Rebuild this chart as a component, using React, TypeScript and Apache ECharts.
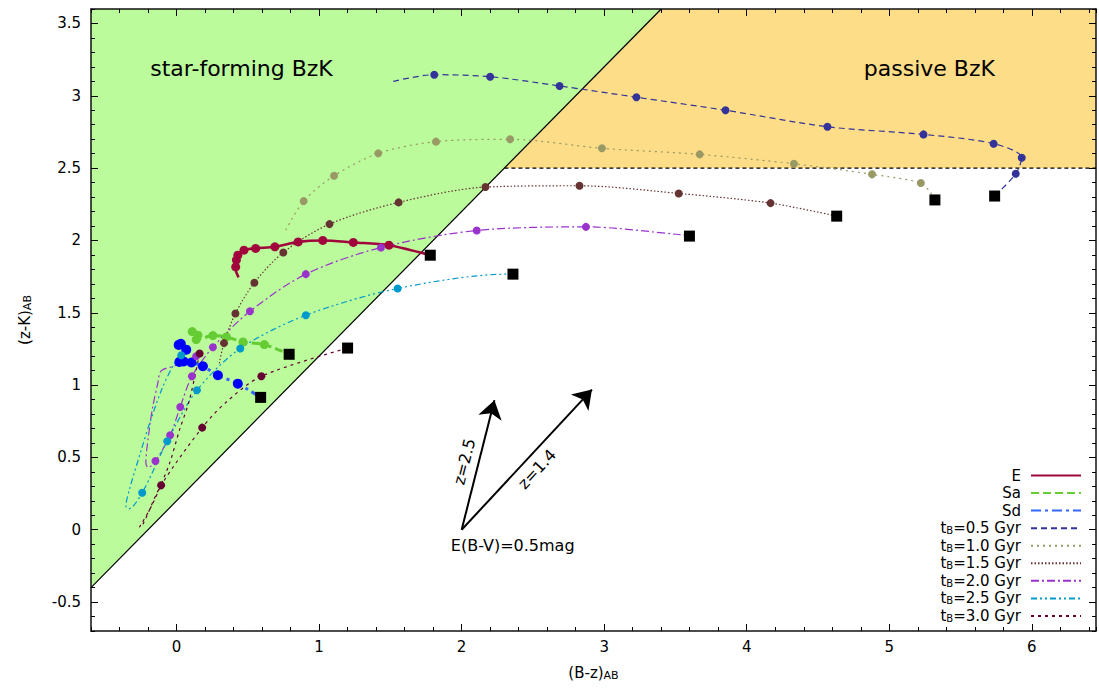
import React, { useEffect, useRef } from 'react';
import * as echarts from 'echarts';

const FONT = 'DejaVu Sans';

// Axis ranges
const xRange = [-0.6, 6.45];
const yRange = [-0.7, 3.6];
const xMajor = [0, 6];
const yMajor = [-0.5, 3.5];

// BzK selection regions
const sfRegion = [[-0.6, -0.4], [3.4, 3.6], [-0.6, 3.6]];
const passiveRegion = [[2.3, 2.5], [3.4, 3.6], [6.45, 3.6], [6.45, 2.5]];
const sfBoundary = [[-0.6, -0.4], [3.4, 3.6]];
const passiveBoundary = [[2.3, 2.5], [6.45, 2.5]];

// Model tracks (lines) and their marked points
const eTrack = [[0.435, 1.745], [0.415, 1.8], [0.415, 1.83], [0.42, 1.864], [0.43, 1.898], [0.473, 1.933], [0.555, 1.945], [0.69, 1.956], [0.853, 1.99], [1.026, 2.0], [1.24, 1.986], [1.49, 1.967], [1.78, 1.898]];
const eDots = [[0.415, 1.817], [0.42, 1.864], [0.43, 1.898], [0.473, 1.933], [0.555, 1.945], [0.69, 1.956], [0.853, 1.99], [1.026, 2.0], [1.24, 1.986], [1.49, 1.967]];

const saTrack = [[0.1, 1.38], [0.13, 1.36], [0.16, 1.345], [0.14, 1.315], [0.2, 1.33], [0.255, 1.342], [0.35, 1.333], [0.466, 1.298], [0.616, 1.28], [0.79, 1.213]];
const saDots = [[0.11, 1.37], [0.15, 1.345], [0.138, 1.315], [0.255, 1.342], [0.35, 1.333], [0.466, 1.298], [0.616, 1.28]];

const sdTrack = [[0.01, 1.285], [0.03, 1.29], [0.068, 1.245], [0.04, 1.2], [0.02, 1.16], [0.05, 1.163], [0.105, 1.156], [0.185, 1.13], [0.29, 1.068], [0.43, 1.01], [0.59, 0.915]];
const sdDots = [[0.015, 1.278], [0.03, 1.285], [0.068, 1.245], [0.02, 1.16], [0.05, 1.163], [0.105, 1.156], [0.185, 1.13], [0.29, 1.068], [0.43, 1.01]];

const t05Track = [[1.52, 3.1], [1.808, 3.146], [2.2, 3.132], [2.687, 3.068], [3.226, 2.99], [3.851, 2.9], [4.566, 2.786], [5.24, 2.733], [5.732, 2.669], [5.929, 2.572], [5.887, 2.461], [5.739, 2.307]];
const t05Dots = [[1.808, 3.146], [2.2, 3.132], [2.687, 3.068], [3.226, 2.99], [3.851, 2.9], [4.566, 2.786], [5.24, 2.733], [5.732, 2.669], [5.929, 2.572], [5.887, 2.461]];

const t10Track = [[0.766, 2.071], [0.892, 2.272], [1.105, 2.447], [1.415, 2.602], [1.82, 2.683], [2.34, 2.699], [2.984, 2.637], [3.67, 2.595], [4.331, 2.53], [4.879, 2.457], [5.221, 2.397], [5.29, 2.33], [5.32, 2.28]];
const t10Dots = [[0.892, 2.272], [1.105, 2.447], [1.415, 2.602], [1.82, 2.683], [2.34, 2.699], [2.984, 2.637], [3.67, 2.595], [4.331, 2.53], [4.879, 2.457], [5.221, 2.397]];

const t15Track = [[0.3, 1.15], [0.333, 1.29], [0.413, 1.495], [0.546, 1.708], [0.749, 1.917], [1.073, 2.113], [1.558, 2.263], [2.167, 2.369], [2.827, 2.378], [3.523, 2.325], [4.167, 2.258], [4.631, 2.168]];
const t15Dots = [[0.333, 1.29], [0.413, 1.495], [0.546, 1.708], [0.749, 1.917], [1.073, 2.113], [1.558, 2.263], [2.167, 2.369], [2.827, 2.378], [3.523, 2.325], [4.167, 2.258]];

const t20Track = [[0.138, 1.199], [0.0, 1.137], [-0.108, 1.098], [-0.132, 1.01], [-0.167, 0.849], [-0.19, 0.7], [-0.215, 0.46], [-0.2, 0.43], [-0.148, 0.475], [-0.045, 0.653], [0.026, 0.849], [0.108, 1.061], [0.255, 1.262], [0.515, 1.51], [0.907, 1.767], [1.434, 1.951], [2.106, 2.069], [2.872, 2.094], [3.523, 2.041], [3.598, 2.03]];
const t20Dots = [[0.138, 1.199], [-0.148, 0.475], [-0.045, 0.653], [0.026, 0.849], [0.108, 1.061], [0.255, 1.262], [0.515, 1.51], [0.907, 1.767], [1.434, 1.951], [2.106, 2.069], [2.872, 2.094]];

const t25Track = [[0.033, 1.206], [-0.02, 1.14], [-0.1, 0.98], [-0.19, 0.733], [-0.248, 0.549], [-0.33, 0.28], [-0.355, 0.16], [-0.335, 0.145], [-0.241, 0.256], [-0.065, 0.612], [0.143, 0.964], [0.447, 1.253], [0.907, 1.483], [1.551, 1.668], [2.324, 1.767], [2.36, 1.767]];
const t25Dots = [[0.033, 1.206], [-0.241, 0.256], [-0.065, 0.612], [0.143, 0.964], [0.447, 1.253], [0.907, 1.483], [1.551, 1.668]];

const t30Track = [[0.162, 1.218], [0.09, 0.895], [0.02, 0.687], [-0.05, 0.457], [-0.167, 0.18], [-0.26, 0.018], [-0.235, 0.04], [-0.108, 0.307], [0.18, 0.706], [0.349, 0.883], [0.595, 1.061], [1.2, 1.256]];
const t30Dots = [[0.162, 1.218], [-0.108, 0.307], [0.18, 0.706], [0.595, 1.061]];

const modelNames = ['E', 'Sa', 'Sd', 'tB=0.5 Gyr', 'tB=1.0 Gyr', 'tB=1.5 Gyr', 'tB=2.0 Gyr', 'tB=2.5 Gyr', 'tB=3.0 Gyr'];

// Reddening vectors
const reddeningFrom = [2.0, 0.0];
const reddeningTo = [[2.914, 0.969], [2.23, 0.895]];
const reddeningNames = ['z=1.4', 'z=2.5'];

const textNotes = [
  { text: 'star-forming BzK', at: [0.456, 3.192], size: 22 },
  { text: 'passive BzK', at: [5.281, 3.19], size: 22 },
  { text: 'E(B-V)=0.5mag', at: [2.358, -0.11], size: 16 },
];

const models = [
  { line: eTrack, dots: eDots, color: '#a0063c', dotColor: '#a0063c', width: 2.6, dash: 'solid' as any, dot: 9 },
  { line: saTrack, dots: saDots, color: '#66cc33', dotColor: '#66cc33', width: 3, dash: [8, 4], dot: 9 },
  { line: sdTrack, dots: sdDots, color: '#3366ff', dotColor: '#0000ff', width: 3, dash: [10, 4, 3, 4], dot: 10 },
  { line: t05Track, dots: t05Dots, color: '#333399', dotColor: '#333399', width: 1.2, dash: [6, 4], dot: 8 },
  { line: t10Track, dots: t10Dots, color: '#999966', dotColor: '#999966', width: 1.2, dash: [2, 4], dot: 8 },
  { line: t15Track, dots: t15Dots, color: '#663333', dotColor: '#663333', width: 1.2, dash: [1.5, 2], dot: 8 },
  { line: t20Track, dots: t20Dots, color: '#9933cc', dotColor: '#9933cc', width: 1.2, dash: [8, 3, 2, 3], dot: 8 },
  { line: t25Track, dots: t25Dots, color: '#0099cc', dotColor: '#0099cc', width: 1.2, dash: [6, 3, 2, 3, 2, 3], dot: 8 },
  { line: t30Track, dots: t30Dots, color: '#660033', dotColor: '#660033', width: 1.2, dash: [3, 4], dot: 8 },
];

function legendRich(name: string) {
  if (name.startsWith('tB')) return '{a|t}{b|B}{a|' + name.slice(2) + '}';
  return '{a|' + name + '}';
}

export default function App() {
  const ref = useRef<HTMLDivElement>(null);
  useEffect(() => {
    document.body.style.margin = '0';
    const chart = echarts.init(ref.current!, undefined, { renderer: 'svg' });

    const W = 1099, H = 688;
    const g0 = { left: 91, right: 3, top: 9, bottom: 57 };
    const pw = W - g0.left - g0.right;
    const ph = H - g0.top - g0.bottom;
    const xs = pw / (xRange[1] - xRange[0]);
    const ys = ph / (yRange[1] - yRange[0]);
    const g1 = {
      left: g0.left + (xMajor[0] - xRange[0]) * xs,
      right: g0.right + (xRange[1] - xMajor[1]) * xs,
      top: g0.top, bottom: g0.bottom,
    };
    const g2 = {
      left: g0.left, right: g0.right,
      top: g0.top + (yRange[1] - yMajor[1]) * ys,
      bottom: g0.bottom + (yMajor[0] - yRange[0]) * ys,
    };

    const tickColor = '#000';
    const labelStyle = { color: '#000', fontSize: 15, fontFamily: FONT };
    const rich = {
      a: { fontSize: 15, fontFamily: FONT, color: '#000', lineHeight: 15 },
      b: { fontSize: 10, fontFamily: FONT, color: '#000', lineHeight: 8, verticalAlign: 'bottom' },
    };

    const minorX = (pos: string) => ({
      type: 'value', gridIndex: 0, position: pos, min: xRange[0], max: xRange[1], interval: 0.2, z: 10,
      axisLine: { show: true, onZero: false, lineStyle: { color: '#111', width: 1.5 } },
      axisTick: { show: true, inside: true, length: 4, lineStyle: { color: tickColor, width: 1 } },
      axisLabel: { show: false }, splitLine: { show: false },
    });
    const minorY = (pos: string) => ({
      type: 'value', gridIndex: 0, position: pos, min: yRange[0], max: yRange[1], interval: 0.1, z: 10,
      axisLine: { show: true, onZero: false, lineStyle: { color: '#111', width: 1.5 } },
      axisTick: { show: true, inside: true, length: 4, lineStyle: { color: tickColor, width: 1 } },
      axisLabel: { show: false }, splitLine: { show: false },
    });
    const majorX = (pos: string, labels: boolean) => ({
      type: 'value', gridIndex: 1, position: pos, min: xMajor[0], max: xMajor[1], interval: 1, z: 10,
      axisLine: { show: false },
      axisTick: { show: true, inside: true, length: 7, lineStyle: { color: tickColor, width: 1 } },
      axisLabel: { show: labels, margin: 8, ...labelStyle }, splitLine: { show: false },
    });
    const majorY = (pos: string, labels: boolean) => ({
      type: 'value', gridIndex: 2, position: pos, min: yMajor[0], max: yMajor[1], interval: 0.5, z: 10,
      axisLine: { show: false },
      axisTick: { show: true, inside: true, length: 7, lineStyle: { color: tickColor, width: 1 } },
      axisLabel: { show: labels, margin: 10, ...labelStyle }, splitLine: { show: false },
    });

    const nameRich = {
      a: { fontSize: 15, fontFamily: FONT, color: '#000', lineHeight: 17 },
      b: { fontSize: 11, fontFamily: FONT, color: '#000', lineHeight: 8, verticalAlign: 'bottom' },
    };
    const xMain: any = minorX('bottom');
    xMain.name = '{a|(B-z)}{b|AB}';
    xMain.nameLocation = 'middle';
    xMain.nameGap = 33;
    xMain.nameTextStyle = { rich: nameRich };
    const yMain: any = minorY('left');
    yMain.name = '{a|(z-K)}{b|AB}';
    yMain.nameLocation = 'middle';
    yMain.nameGap = 58;
    yMain.nameTextStyle = { rich: nameRich };

    const regions = [
      { pts: sfRegion, fill: '#bbfb9c' },
      { pts: passiveRegion, fill: '#fddd88' },
    ];

    const series: any[] = [];
    series.push({
      type: 'custom', name: 'regions', z: 1, silent: true, clip: true,
      data: regions.map((r) => r.pts[0]),
      renderItem: (params: any, api: any) => {
        const r = regions[params.dataIndex];
        return { type: 'polygon', shape: { points: r.pts.map((p) => api.coord(p)) }, style: { fill: r.fill } };
      },
    });
    series.push({
      type: 'line', name: 'sf-boundary', data: sfBoundary, symbol: 'none', silent: true, z: 2,
      lineStyle: { color: '#000', width: 1.2, type: 'solid' },
    });
    series.push({
      type: 'line', name: 'passive-boundary', data: passiveBoundary, symbol: 'none', silent: true, z: 2,
      lineStyle: { color: '#000', width: 1.2, type: [4, 3] },
    });

    models.forEach((m, i) => {
      series.push({
        type: 'line', name: modelNames[i], data: m.line, symbol: 'none', showSymbol: false,
        smooth: 0.3, z: 3, silent: true, color: m.color,
        itemStyle: { color: m.color, opacity: 0 },
        lineStyle: { color: m.color, width: m.width, type: m.dash },
      });
      series.push({
        type: 'scatter', name: modelNames[i] + ' points', data: m.dots, symbol: 'circle',
        symbolSize: m.dot, z: 3, silent: true, itemStyle: { color: m.dotColor, opacity: 1 },
      });
    });

    series.push({
      type: 'scatter', name: 'ends', data: models.map((m) => m.line[m.line.length - 1]),
      symbol: 'rect', symbolSize: 11, z: 4, silent: true, itemStyle: { color: '#000', opacity: 1 },
    });

    series.push({
      type: 'scatter', name: 'notes', z: 5, silent: true, symbolSize: 0,
      itemStyle: { opacity: 1, color: '#000' },
      data: textNotes.map((t) => ({
        value: t.at,
        label: { show: true, position: 'inside', formatter: t.text, fontSize: t.size, fontFamily: FONT, color: '#000' },
      })),
      markLine: {
        silent: true, animation: false, symbol: ['none', 'arrow'], symbolSize: 18,
        lineStyle: { color: '#000', width: 2, type: 'solid', opacity: 1 },
        itemStyle: { color: '#000', opacity: 1 },
        emphasis: { disabled: true },
        data: reddeningTo.map((to, i) => [
          { coord: reddeningFrom, label: { show: true, formatter: reddeningNames[i], position: i === 0 ? 'insideMiddleBottom' : 'insideMiddleTop', fontSize: 16, fontFamily: FONT, color: '#000', distance: 6 } },
          { coord: to },
        ]),
      },
    });

    const option: any = {
      animation: false,
      backgroundColor: '#fff',
      textStyle: { fontFamily: FONT },
      grid: [
        { ...g0, containLabel: false },
        { ...g1, containLabel: false },
        { ...g2, containLabel: false },
      ],
      xAxis: [
        xMain, minorX('top'), majorX('bottom', true), majorX('top', false),
        { type: 'value', gridIndex: 2, show: false, min: 0, max: 1 },
      ],
      yAxis: [
        yMain, minorY('right'), majorY('left', true), majorY('right', false),
        { type: 'value', gridIndex: 1, show: false, min: 0, max: 1 },
      ],
      legend: {
        data: modelNames, orient: 'vertical', align: 'right', right: 17, top: 468, padding: 0,
        itemWidth: 50, itemHeight: 14, itemGap: 2.56, selectedMode: false,
        itemStyle: { opacity: 0 },
        formatter: (name: string) => legendRich(name),
        textStyle: { rich, padding: [0, 5, 0, 0] },
      },
      series,
    };
    chart.setOption(option);
    return () => chart.dispose();
  }, []);
  return <div ref={ref} style={{ width: 1099, height: 688 }} />;
}
